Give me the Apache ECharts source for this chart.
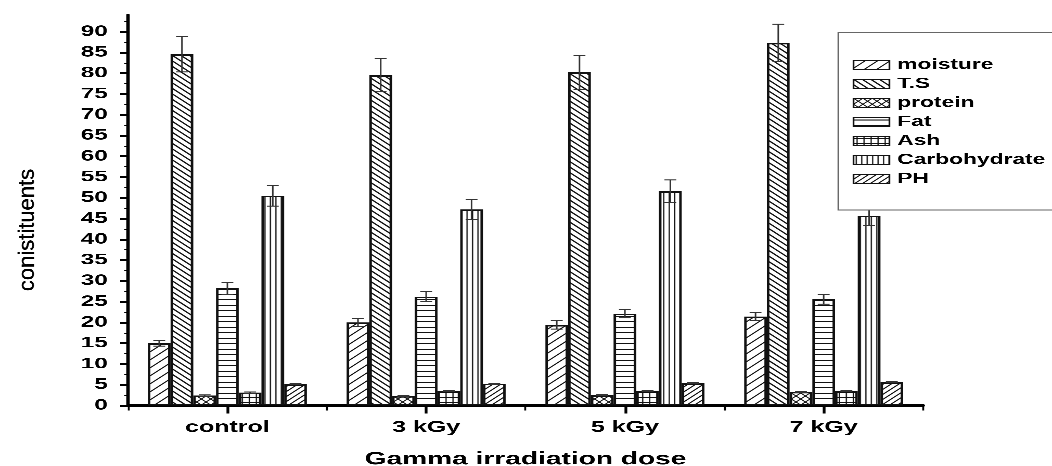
<!DOCTYPE html>
<html>
<head>
<meta charset="utf-8">
<script src="https://cdn.jsdelivr.net/npm/echarts@6/dist/echarts.min.js"></script>
<style>
  html, body { margin: 0; padding: 0; background: #fff; overflow: hidden; }
  /* the figure is laid out narrow and widened so its lettering comes out broad */
  #chart { width: 674px; height: 466px; transform: scaleX(1.5608); transform-origin: 0 0; }
</style>
</head>
<body>
<div id="chart"></div>
<script>
// ---- data ----
const categories = ['control', '3 kGy', '5 kGy', '7 kGy'];
const seriesNames = ['moisture', 'T.S', 'protein', 'Fat', 'Ash', 'Carbohydrate', 'PH'];

const moisture      = [15.0, 20.0, 19.4, 21.4];
const moistureErr   = [0.7, 1.0, 1.0, 1.0];
const totalSolids   = [84.6, 79.5, 80.2, 87.3];
const totalSolidsErr = [4.3, 4.0, 4.1, 4.5];
const protein       = [2.4, 2.3, 2.5, 3.3];
const proteinErr    = [0.15, 0.15, 0.15, 0.15];
const fat           = [28.2, 26.2, 22.1, 25.6];
const fatErr        = [1.4, 1.2, 1.0, 1.2];
const ash           = [3.1, 3.5, 3.5, 3.5];
const ashErr        = [0.15, 0.15, 0.15, 0.15];
const carbohydrate  = [50.5, 47.2, 51.6, 45.7];
const carbohydrateErr = [2.5, 2.4, 2.7, 2.4];
const ph            = [5.1, 5.25, 5.35, 5.6];
const phErr         = [0.12, 0.12, 0.12, 0.12];

const yTickValues = [0, 5, 10, 15, 20, 25, 30, 35, 40, 45, 50, 55, 60, 65, 70, 75, 80, 85, 90];

const values = [moisture, totalSolids, protein, fat, ash, carbohydrate, ph];
const errors = [moistureErr, totalSolidsErr, proteinErr, fatErr, ashErr, carbohydrateErr, phErr];

// ---- hatch fills ----
const K = 4; // tile oversampling
function tile(w, h, draw) {
  const c = document.createElement('canvas');
  c.width = Math.round(w * K);
  c.height = Math.round(h * K);
  const g = c.getContext('2d');
  g.fillStyle = '#fff';
  g.fillRect(0, 0, c.width, c.height);
  g.scale(K, K);
  g.strokeStyle = '#111';
  g.lineCap = 'square';
  draw(g, w, h);
  return { image: c, repeat: 'repeat', scaleX: 1 / K, scaleY: 1 / K };
}
function seg(g, x1, y1, x2, y2, lw) {
  g.lineWidth = lw;
  g.beginPath(); g.moveTo(x1, y1); g.lineTo(x2, y2); g.stroke();
}
function forward(p, lw) {       // "/" lines
  return tile(p, p, (g) => {
    seg(g, -1, p + 1, p + 1, -1, lw);
    seg(g, -1, 1, 1, -1, lw);
    seg(g, p - 1, p + 1, p + 1, p - 1, lw);
  });
}
function backward(p, lw) {      // "\" lines
  return tile(p, p, (g) => {
    seg(g, -1, -1, p + 1, p + 1, lw);
    seg(g, p - 1, -1, p + 1, 1, lw);
    seg(g, -1, p - 1, 1, p + 1, lw);
  });
}
function cross(p, lw) {         // "X" lattice
  return tile(p, p, (g) => {
    seg(g, -1, p + 1, p + 1, -1, lw);
    seg(g, -1, 1, 1, -1, lw);
    seg(g, p - 1, p + 1, p + 1, p - 1, lw);
    seg(g, -1, -1, p + 1, p + 1, lw);
    seg(g, p - 1, -1, p + 1, 1, lw);
    seg(g, -1, p - 1, 1, p + 1, lw);
  });
}
function horizontal(h, lw) {
  return tile(4, h, (g) => { seg(g, -1, h / 2, 5, h / 2, lw); });
}
function vertical(w, lw) {
  return tile(w, 4, (g) => { seg(g, w / 2, -1, w / 2, 5, lw); });
}
function grid(w, h, lw) {
  return tile(w, h, (g) => {
    seg(g, -1, h / 2, w + 1, h / 2, lw);
    seg(g, w / 2, -1, w / 2, h + 1, lw * 0.8);
  });
}

const fills = [
  forward(8, 0.9),      // moisture
  backward(5.5, 1.1),   // T.S
  cross(6, 0.8),        // protein
  horizontal(5.5, 1.0), // Fat
  grid(4.5, 5, 1.0),    // Ash
  vertical(3.5, 0.8),   // Carbohydrate
  forward(5, 0.9)       // PH
];

const FONT = 'Liberation Sans, Arial, sans-serif';

const barSeries = seriesNames.map((name, i) => ({
  name: name,
  type: 'bar',
  xAxisIndex: 0,
  data: values[i],
  barGap: '0%',
  barCategoryGap: '20%',
  itemStyle: { color: fills[i], borderColor: '#111', borderWidth: 1.6 },
  emphasis: { disabled: true },
  z: 2
}));

// error bars: [category index, series index, value, error]
const errorData = [];
seriesNames.forEach((_, s) => {
  categories.forEach((_, c) => {
    errorData.push([c, s, values[s][c], errors[s][c]]);
  });
});

const errorSeries = {
  type: 'custom',
  name: 'error',
  xAxisIndex: 0,
  data: errorData,
  encode: { x: 0, y: 2 },
  z: 3,
  silent: true,
  renderItem: function (params, api) {
    const c = api.value(0), s = api.value(1), v = api.value(2), e = api.value(3);
    const band = api.size([1, 0])[0];
    const bw = band * 0.8 / seriesNames.length;
    const cx = api.coord([c, 0])[0] + (s - (seriesNames.length - 1) / 2) * bw;
    const yTop = api.coord([c, v + e])[1];
    const yBot = api.coord([c, v - e])[1];
    const half = 3.8;
    const style = { stroke: '#333', lineWidth: 1 };
    return {
      type: 'group',
      children: [
        { type: 'line', shape: { x1: cx, y1: yTop, x2: cx, y2: yBot }, style: style },
        { type: 'line', shape: { x1: cx - half, y1: yTop, x2: cx + half, y2: yTop }, style: style },
        { type: 'line', shape: { x1: cx - half, y1: yBot, x2: cx + half, y2: yBot }, style: style }
      ]
    };
  }
};

const chart = echarts.init(document.getElementById('chart'), null, { renderer: 'canvas', devicePixelRatio: 3 });

const S = 1.5608;

chart.setOption({
  animation: false,
  backgroundColor: '#fff',
  textStyle: { fontFamily: FONT, color: '#000' },
  grid: { left: 82, right: 82.6, top: 15, bottom: 60.5, containLabel: false, outerBoundsMode: 'none' },
  legend: {
    orient: 'vertical',
    left: 537.1,
    top: 32.3,
    data: seriesNames,
    icon: 'rect',
    itemWidth: 23,
    itemHeight: 9.5,
    itemGap: 3,
    padding: [24.7, 30, 23, 9.2],
    backgroundColor: '#fff',
    borderColor: '#666',
    borderWidth: 1,
    itemStyle: { borderColor: '#111', borderWidth: 1.1 },
    textStyle: { fontFamily: FONT, fontSize: 14.6, fontWeight: 'bold', color: '#000', lineHeight: 16 },
    selectedMode: false
  },
  xAxis: [
    {
      type: 'category',
      data: categories,
      position: 'bottom',
      boundaryGap: true,
      axisLine: { lineStyle: { color: '#000', width: 2.5 } },
      axisTick: { show: true, length: 5, lineStyle: { color: '#000', width: 1.2 } },
      axisLabel: { margin: 14, fontFamily: FONT, fontSize: 16, fontWeight: 'bold', color: '#000' },
      name: 'Gamma irradiation dose',
      nameLocation: 'middle',
      nameGap: 45,
      nameTextStyle: { fontFamily: FONT, fontSize: 18, fontWeight: 'bold', color: '#000' },
      splitLine: { show: false }
    },
    {
      type: 'category',
      data: categories,
      position: 'bottom',
      offset: 0,
      axisLine: { show: false },
      axisTick: { show: true, alignWithLabel: true, length: 8, lineStyle: { color: '#000', width: 1.8 } },
      axisLabel: { show: false },
      splitLine: { show: false }
    }
  ],
  yAxis: {
    type: 'value',
    min: 0,
    max: 94,
    interval: 5,
    axisLine: { show: true, lineStyle: { color: '#000', width: 2.2 } },
    axisTick: { show: true, inside: false, length: 5, lineStyle: { color: '#000', width: 1.6 }, customValues: yTickValues },
    minorTick: { show: true, splitNumber: 2, length: 2.5, lineStyle: { color: '#000', width: 1.2 } },
    axisLabel: {
      margin: 13,
      customValues: yTickValues,
      formatter: (v) => (v % 5 === 0 ? String(v) : ''),
      fontFamily: FONT, fontSize: 15.5, fontWeight: 'bold', color: '#000'
    },
    splitLine: { show: false }
  },
  graphic: [
    {
      type: 'text',
      x: 17.8,
      y: 230,
      rotation: Math.PI / 2,
      scaleY: 1 / S,
      style: {
        text: 'conistituents',
        font: '22px ' + FONT,
        fill: '#000',
        stroke: '#000',
        lineWidth: 0.35,
        align: 'center',
        verticalAlign: 'middle'
      }
    }
  ],
  series: barSeries.concat([errorSeries])
});
</script>
</body>
</html>
